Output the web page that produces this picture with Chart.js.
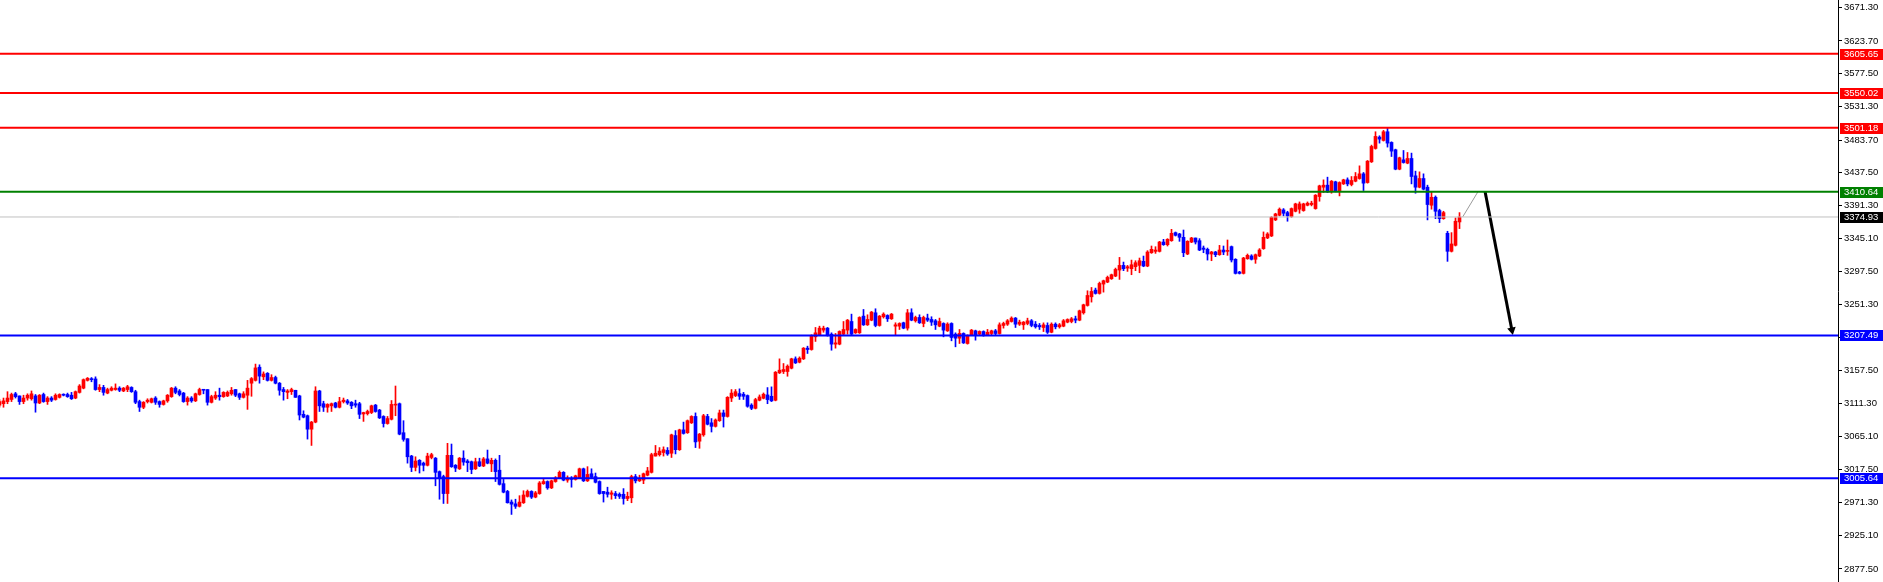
<!DOCTYPE html>
<html>
<head>
<meta charset="utf-8">
<title>Candles</title>
<script src="https://cdn.jsdelivr.net/npm/chart.js"></script>
<style>
  html, body { margin: 0; padding: 0; background: #ffffff; }
  #wrap { width: 1883px; height: 582px; }
</style>
</head>
<body>
<div id="wrap"><canvas id="chart"></canvas></div>
<script>
// candle values, one per bar
const opens = [
  3109,3111,3114,3117,3125,3122,3114,3119,3118,3122,
  3112,3124,3114,3119,3117,3120,3124,3124,3123,3119,
  3127,3133,3144,3146,3146,3131,3134,3126,3130,3131,
  3133,3129,3131,3134,3128,3114,3106,3114,3113,3119,
  3114,3110,3115,3121,3133,3129,3126,3114,3119,3115,
  3124,3131,3131,3113,3119,3123,3121,3122,3125,3131,
  3125,3120,3123,3140,3144,3162.6,3149,3154,3144,3148,
  3140,3131,3127,3128,3130,3122,3096,3094,3075,3085,
  3129,3111,3106,3108,3112,3106,3114,3115,3113,3111,
  3111,3096.5,3097,3098.5,3109,3102,3093,3083,3089,3109,
  3111,3070,3061.5,3037,3021,3031,3027,3024,3035,3034,
  3015,3008,2984,3038,3024,3019,3034,3030,3029,3019,
  3029,3023,3033,3026,3031,3017,2998,2987,2972,2969.5,
  2966,2971,2980,2987,2979,2984,2998,3001,2992,3001,
  3006,3014,3003,3005,3004,3006,3019,3002,3012,3008,
  3001,2987,2986,2983,2984,2983,2983,2977,2978,3008,
  3002,3003,3010,3014,3037,3039,3042,3045,3041,3066,
  3046,3074,3070,3084,3093,3058,3067,3093,3084,3079,
  3087,3098,3093,3119,3122.5,3125.3,3124.4,3122.5,3109,3104.5,
  3115.9,3118.7,3123.4,3121.5,3115.9,3154.6,3156.5,3156.5,3161.2,3174.4,
  3169.7,3174.4,3189.5,3187.6,3205.5,3208.4,3215,3217.8,3209.3,3195.2,
  3195.2,3209.3,3215,3227.2,3211.2,3211.2,3234.8,3222.5,3229.1,3239.5,
  3221.6,3233.9,3235.7,3231,3220.6,3220.6,3225.4,3217.8,3239.5,3228.2,
  3232.9,3224.4,3232,3230.1,3228.2,3220.6,3224.4,3214,3224.4,3209.3,
  3203.6,3210.3,3196.1,3208.4,3214,3209.3,3213,3208.3,3210.2,3214,
  3210.2,3221.6,3223.4,3227.2,3232,3223.4,3222.5,3224.4,3228.2,3223.4,
  3221.6,3218.7,3221.6,3212,3223.4,3219.7,3220.6,3226.3,3227.2,3231,
  3229.1,3239.5,3249.9,3262.1,3271.6,3266.9,3280.1,3282.9,3287.6,3291.4,
  3299.9,3306.5,3302.7,3301.8,3304.6,3306.5,3312.2,3305.6,3324.4,3326.3,
  3326.3,3339.5,3335.8,3341.4,3352.8,3350.9,3346.2,3322.6,3339.5,3345.2,
  3341.4,3331,3329.2,3322.6,3325.4,3321.6,3328.2,3326.3,3333,3315.1,
  3297.1,3295.2,3316,3319.8,3315.1,3319.8,3330.2,3345.3,3348.1,3370.8,
  3377.4,3384.9,3381.1,3375.5,3383,3385.9,3384,3391.5,3392.5,3386.8,
  3403.8,3417,3419.9,3411.3,3424.6,3411.3,3421.7,3427.4,3420.8,3425.5,
  3429.3,3435.9,3423.6,3452.9,3471.8,3487.8,3483.1,3495.4,3480.3,3469.9,
  3442.5,3455.7,3451,3457.6,3433.1,3417,3429.3,3417,3391.5,3402.8,
  3384,3372.6,3351.9,3326.4,3334.9,3367.9
];
const highs = [
  3117,3119,3128,3126,3127,3122,3123,3125,3129,3124,
  3124,3126,3121,3121,3125,3125,3125,3126,3127,3129,
  3138,3146,3148,3148,3149,3138,3137,3133,3135,3139,
  3135,3134,3137,3135,3130,3116,3114,3118,3119,3121,
  3115,3116,3124,3134,3135,3131,3127,3121,3121,3126,
  3133,3131,3131,3123,3128,3133,3128,3129,3134,3131,
  3126,3128,3144,3148,3167,3166,3156,3155,3152,3150,
  3141,3134,3131,3133,3130,3123,3101,3095,3086,3135,
  3130,3114.5,3111,3112,3113,3120,3119,3117,3114,3116,
  3113,3099,3102,3109,3110,3103,3094,3093,3115.5,3136,
  3112,3087,3061.5,3038,3036,3032,3028.5,3041,3041,3035,
  3016,3010,3055,3054,3025,3035,3044.5,3032,3030,3034,
  3034,3035,3045.5,3034,3033,3038,3004,2988.5,2975,2976,
  2981,2988,2989,2988,2987,3001,3004,3002,3003,3008,
  3016,3015,3009,3008,3010,3020,3020,3022,3019,3013,
  3002,2987,2993,2988,2987,2985,2991,2986,3010,3011,
  3010,3013,3021,3041,3052,3049,3050,3049,3068,3073,
  3075,3085,3088,3094,3098,3069,3096,3096,3090,3089.5,
  3102,3102,3121,3131,3131,3132,3127,3123.4,3111,3118.7,
  3123.4,3126.2,3133.8,3134.8,3156.5,3174.4,3167.8,3165.9,3175.3,3177.2,
  3177.2,3190.4,3192.3,3208.4,3218.8,3220.6,3220.6,3218.8,3211.2,3210.3,
  3214,3227.2,3230.1,3237.6,3216.9,3233.9,3244.2,3236.7,3241.4,3245.2,
  3235.7,3239.5,3236.7,3238.6,3225.4,3225.4,3226.3,3244.2,3245.2,3234.8,
  3236.7,3234.8,3237.6,3233.9,3230.1,3232,3225.4,3225.4,3225.4,3211.2,
  3215.9,3211.2,3208.4,3216,3215,3214,3214,3216,3215,3216,
  3225.3,3226.3,3230,3233.8,3232.9,3229.1,3227.2,3231.9,3230,3227.2,
  3224.4,3225.3,3225.3,3225.3,3225.3,3224.4,3230,3231,3232.9,3234.8,
  3243.3,3251.7,3270.6,3275.3,3274.4,3282.9,3285.7,3291.4,3294.2,3302.7,
  3317.8,3311.2,3306.5,3314,3313.1,3316.9,3319.7,3327.3,3333.9,3332.9,
  3340.5,3343.3,3344.3,3357.5,3353.7,3351.8,3356.5,3341.4,3346.2,3345.2,
  3344.3,3333.9,3331,3326.3,3326.3,3334.8,3333.9,3342.4,3333.9,3316,
  3298.1,3317.9,3322.6,3321.6,3322.6,3330.2,3353.8,3352.8,3375.5,3380.2,
  3387.7,3386.8,3383,3387.7,3394.4,3396.2,3394.4,3396.2,3397.2,3406.6,
  3419.9,3427.4,3431.2,3426.5,3425.5,3424.6,3428.3,3430.2,3432.1,3437.8,
  3447.2,3437.8,3454.8,3476.5,3495.4,3489.7,3497.3,3501,3481.2,3470.8,
  3459.5,3468.9,3466.1,3465.2,3439.7,3438.7,3435.9,3419.9,3410.4,3404.7,
  3385.9,3383,3354.7,3352.8,3373.6,3381.1
];
const lows = [
  3106,3106,3111,3114,3119,3110,3111,3116,3116,3099,
  3111,3113,3110,3114,3116,3119,3122,3120,3117,3118,
  3126,3132,3143,3142,3130,3128,3123,3125,3129,3130,
  3128,3128,3128,3127,3111,3100,3104,3112,3112,3110,
  3106,3109,3113,3120,3125,3122,3113,3109,3113,3114,
  3123,3125,3109,3112,3117,3116,3120,3121,3123,3121,
  3117,3119,3103,3121.5,3143,3140,3145,3143,3143,3139,
  3123,3116,3118,3124,3120,3088,3091,3061,3052,3084,
  3100,3100,3099,3100,3105,3105,3112,3110,3104,3106,
  3090,3086,3095,3097,3099,3090,3078,3082,3088,3094,
  3067,3058,3027,3015,3016,3013,3016,3023,3033,2995,
  2976,2970,2970,3021,3015,3018,3024,3015,3012,3018,
  3022,3022,3026,3015,3001,2996,2985,2970.5,2954.5,2963,
  2965,2970,2979,2977,2978,2983,2997,2990,2991,3000,
  3005,3002,3000,2993,3003,3005,3001,3001,3005,2999,
  2983,2972,2979,2976,2977,2977,2969,2974,2971,2999,
  3001,2998,3009,3013,3037,3037,3037,3038,3035,3040,
  3045,3068,3069,3083,3049,3048,3065,3081,3071,3078,
  3086,3078,3092,3114,3121,3117,3117,3106,3102.6,3103.6,
  3115,3117.8,3111,3114,3115,3153.6,3153.6,3149.8,3160.2,3167.8,
  3168.7,3173.4,3182,3186.6,3199,3207.4,3212,3206.5,3186.6,3189.5,
  3194.2,3208.4,3209.3,3208.4,3210.3,3210.3,3221.6,3221.6,3228.2,3219.7,
  3220.6,3232,3227.2,3230.1,3208.4,3215.9,3216.9,3215,3228.2,3226.3,
  3224.4,3219.7,3227.2,3221.6,3215.9,3219.7,3205.5,3213.1,3199.9,3191.4,
  3196.1,3196.1,3195.2,3207.4,3200.8,3208.4,3206.4,3207.4,3208.3,3208.3,
  3209.3,3217.8,3221.6,3226.3,3218.7,3221.6,3215.9,3222.5,3219.7,3217.8,
  3215.9,3213,3210.2,3211.2,3216.8,3217.8,3219.7,3225.3,3225.3,3225.3,
  3228.2,3237.6,3248.9,3254.6,3265.9,3265.9,3268.7,3282,3286.7,3290.5,
  3286.7,3299,3298,3293.3,3299,3296.1,3304.6,3304.6,3323.5,3323.5,
  3325.4,3334.8,3333.9,3340.5,3348,3340.5,3318.8,3321.6,3338.6,3336.7,
  3327.3,3324.4,3314,3313.1,3318.8,3320.7,3321.6,3320.7,3311.3,3294.3,
  3294.3,3294.3,3315.1,3314.1,3309.4,3318.8,3329.2,3344.3,3347.2,3369.8,
  3376.4,3376.4,3368.9,3374.5,3382.1,3380.2,3383,3390.6,3390.6,3385.9,
  3397.2,3409.5,3409.5,3408.5,3410.4,3404.7,3420.8,3418.9,3418.9,3424.6,
  3428.3,3412.3,3422.7,3451.9,3470.8,3479.3,3482.2,3473.7,3460.4,3441.6,
  3441.6,3451,3450.1,3421.7,3408.5,3416.1,3413.2,3370.8,3385.9,3372.6,
  3367,3371.7,3312.2,3325.4,3333.9,3358.5
];
const closes = [
  3114,3115,3119,3124,3121,3114,3119,3123,3125,3112,
  3123,3114,3119,3116,3123,3124,3123,3121,3118,3128,
  3136,3145,3147,3145,3131,3134,3127,3131,3133,3133,
  3130,3133,3135,3128,3113,3106,3113,3116,3118,3113,
  3110,3115,3123,3133,3127,3124,3114,3119,3115,3125,
  3131,3130,3113,3121,3123,3121,3127,3127,3130,3123,
  3120,3125,3133,3146.5,3161.6,3150,3153,3144,3148,3140,
  3130,3128,3129,3131,3120,3095,3092,3075,3085,3129,
  3108,3106,3110,3111,3106,3114,3116,3112,3108,3109,
  3096,3098.5,3100,3108,3100,3091,3083,3090,3110,3110,
  3068,3060.6,3036,3021,3030,3024,3024,3037,3039,3014,
  3005,2984,3038,3022,3020,3034,3028.5,3027.6,3018,3029,
  3023,3033,3027,3031,3015,2997,2986,2971,2969,2966,
  2972,2982,2987,2979,2985,2999,3001,2992,3002,3006,
  3014,3003,3005,3004,3009,3019,3002,3011,3007,3000,
  2984,2984,2983,2985,2981,2980,2977,2980,3008,3002,
  3005.5,3012,3016,3039,3041,3044,3046,3040,3067,3046,
  3074,3069,3087,3093,3057,3068,3094,3082,3079,3088,
  3098,3093,3120,3126,3128,3121.5,3121.5,3107.4,3104.5,3116.8,
  3120.6,3124.4,3116.8,3115,3155.5,3158.4,3159.3,3164,3174.4,3168.7,
  3175.3,3189.5,3187.6,3207.4,3211.2,3217.8,3217.8,3207.4,3195.2,3197,
  3213.1,3215.9,3229.1,3209.3,3215.9,3232.9,3222.5,3230.1,3240.5,3221.6,
  3234.8,3237.6,3231,3237.6,3222.5,3224.4,3217.8,3239.5,3229.1,3232.9,
  3225.4,3232.9,3229.1,3226.3,3222.5,3227.2,3215,3223.5,3204.6,3203.6,
  3210.3,3197,3207.4,3215,3207.4,3213.1,3207.4,3212,3214,3210.2,
  3222.5,3224.4,3228.2,3232,3223.4,3226.3,3226.3,3228.2,3221.6,3219.7,
  3219.7,3222.5,3212,3223.4,3219.7,3222.5,3228.2,3230,3231,3229.1,
  3242.3,3250.8,3264,3269.7,3266.9,3281,3284.8,3289.5,3293.3,3300.8,
  3306.5,3301.8,3304.6,3307.4,3310.3,3313.1,3305.6,3325.4,3329.2,3328.2,
  3339.5,3335.8,3343.3,3351.8,3349,3346.2,3324.4,3340.5,3345.2,3339.5,
  3328.2,3329.2,3322.6,3325.4,3321.6,3328.2,3325.4,3327.3,3314.1,3295.2,
  3295.2,3316.9,3320.7,3315.1,3321.6,3328.3,3346.2,3350.9,3374.5,3379.2,
  3385.9,3380.2,3376.4,3386.8,3393.4,3393.4,3393.4,3394.4,3394.4,3405.7,
  3418.9,3419.9,3410.4,3425.5,3411.3,3423.6,3427.4,3421.7,3426.5,3432.1,
  3435.9,3422.7,3453.8,3474.6,3488.8,3485,3495.4,3479.3,3468,3442.5,
  3458.6,3451.9,3457.6,3432.1,3417,3429.3,3414.2,3392.5,3402.8,3383,
  3372.6,3381.1,3326.4,3336.8,3368.9,3374.93
];

// horizontal levels drawn on the chart and tagged on the price axis
const levelValues = [3605.65, 3550.02, 3501.18, 3410.64, 3374.93, 3207.49, 3005.64];
const levelColors = ['#ff0000', '#ff0000', '#ff0000', '#008000', '#c0c0c0', '#0000ff', '#0000ff'];
const tagColors   = ['#ff0000', '#ff0000', '#ff0000', '#008000', '#000000', '#0000ff', '#0000ff'];

// price axis labels
const tickValues = [3671.30, 3623.70, 3577.50, 3531.30, 3483.70, 3437.50, 3391.30, 3345.10,
  3297.50, 3251.30, 3205.10, 3157.50, 3111.30, 3065.10, 3017.50, 2971.30, 2925.10, 2877.50];

// drawn projection: thin leg up, then arrow down
const guideX = [365.8, 369.6];
const guideY = [3375.0, 3410.5];
const arrowX = [371.4, 378.1];
const arrowY = [3410.5, 3215.0];

const UP = '#ff0000', DOWN = '#0000ff';
const candleColors = closes.map((c, i) => c >= opens[i] ? UP : DOWN);
const X_MIN = 0.125, X_MAX = 459.625;

const datasets = [];
levelValues.forEach((v, i) => {
  datasets.push({
    type: 'line',
    data: [{ x: X_MIN, y: v }, { x: X_MAX, y: v }],
    borderColor: levelColors[i],
    borderWidth: levelColors[i] === '#c0c0c0' ? 1 : 2,
    pointRadius: 0,
    order: 0
  });
});
datasets.push({
  type: 'line',
  data: guideX.map((x, i) => ({ x: x, y: guideY[i] })),
  borderColor: '#9a9a9a',
  borderWidth: 1,
  pointRadius: 0,
  order: 0
});
datasets.push({
  type: 'line',
  data: arrowX.map((x, i) => ({ x: x, y: arrowY[i] })),
  borderColor: '#000000',
  borderWidth: 3,
  pointRadius: [0, 5],
  pointHoverRadius: 0,
  pointStyle: 'triangle',
  rotation: 169,
  pointBackgroundColor: '#000000',
  pointBorderWidth: 0,
  order: 0
});
datasets.push({
  type: 'bar',
  data: opens.map((o, i) => ({ x: i, y: [opens[i], closes[i]] })),
  backgroundColor: candleColors,
  borderWidth: 0,
  barThickness: 3,
  minBarLength: 1,
  grouped: false,
  order: 1
});
datasets.push({
  type: 'bar',
  data: opens.map((o, i) => ({ x: i, y: [lows[i], highs[i]] })),
  backgroundColor: candleColors,
  borderWidth: 0,
  barThickness: 1,
  grouped: false,
  order: 2
});

const levelTags = {
  id: 'levelTags',
  afterDraw(chart) {
    const ctx = chart.ctx;
    const ys = chart.scales.y;
    const left = chart.chartArea.right;
    ctx.save();
    ctx.font = '9.5px "Liberation Sans", Arial, sans-serif';
    ctx.textBaseline = 'middle';
    ctx.textAlign = 'left';
    levelValues.forEach((v, i) => {
      const y = Math.round(ys.getPixelForValue(v));
      ctx.fillStyle = tagColors[i];
      ctx.fillRect(left + 2, y - 5, 43, 11);
      ctx.fillStyle = '#ffffff';
      ctx.fillText(v.toFixed(2), left + 6, y + 0.5);
    });
    ctx.restore();
  }
};

new Chart(document.getElementById('chart'), {
  type: 'bar',
  data: { datasets: datasets },
  plugins: [levelTags],
  options: {
    responsive: true,
    maintainAspectRatio: false,
    animation: false,
    layout: { padding: 0, autoPadding: false },
    plugins: { legend: { display: false }, tooltip: { enabled: false } },
    scales: {
      x: {
        type: 'linear',
        offset: false,
        min: X_MIN,
        max: X_MAX,
        display: false
      },
      y: {
        type: 'linear',
        position: 'right',
        min: 2859.0,
        max: 3681.6,
        afterFit(scale) {
          scale.width = 45;
          scale.paddingTop = 0;
          scale.paddingBottom = 0;
        },
        afterBuildTicks(scale) { scale.ticks = tickValues.map(v => ({ value: v })); },
        border: { display: true, color: '#000000', width: 1 },
        grid: { drawOnChartArea: false, drawTicks: true, tickLength: 4, color: '#000000' },
        ticks: {
          autoSkip: false,
          padding: 2,
          color: '#000000',
          font: { family: '"Liberation Sans", Arial, sans-serif', size: 9.5 },
          callback: v => Number(v).toFixed(2)
        }
      }
    }
  }
});
</script>
</body>
</html>
